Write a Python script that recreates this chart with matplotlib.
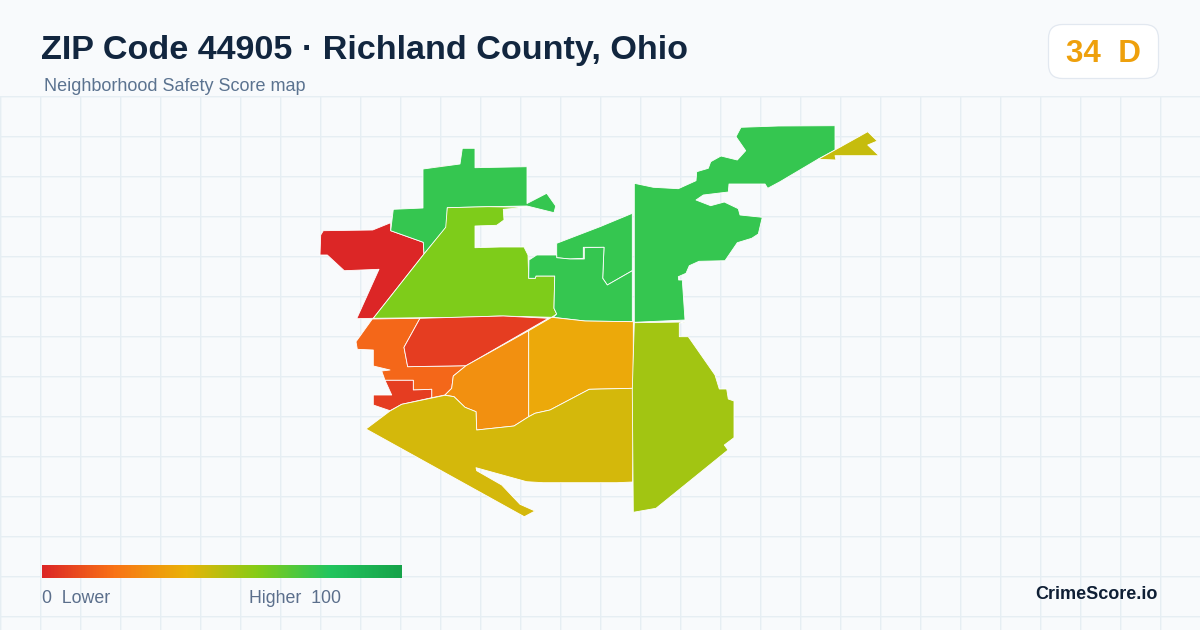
#!/usr/bin/env python3

import matplotlib

matplotlib.use("Agg")

import matplotlib.pyplot as plt
from matplotlib.colors import LinearSegmentedColormap, Normalize
from matplotlib.patches import FancyBboxPatch, Polygon
import numpy as np

plt.rcParams["font.family"] = ["Liberation Sans", "DejaVu Sans"]

TITLE = "ZIP Code 44905 · Richland County, Ohio"
SUBTITLE = "Neighborhood Safety Score map"
BRAND = "CrimeScore.io"
ZIP_SCORE = 34
ZIP_GRADE = "D"

# legend ramp
RAMP_STOPS = [0.0, 0.2, 0.4, 0.6, 0.8, 1.0]
RAMP_COLORS = ["#dc2626", "#f97316", "#eab308", "#84cc16", "#22c55e", "#16a34a"]

# tract outlines in image pixels
RED_SLIVER = [(431, 167.5), (446, 165.5), (446, 167), (431, 168.5)]
RED_WEST = [
    (323.3, 230.7), (372.7, 230), (390.7, 222.7), (390.7, 230.7), (423.3, 242.3),
    (424, 254), (373.3, 318.3), (356.7, 318.7), (379, 269.3), (344.3, 270.7),
    (327.3, 255), (320, 255), (320.7, 235),
]
GREEN_NORTH = [
    (462.3, 148.3), (475, 148.3), (475, 167.7), (527, 166.7), (527, 203.5),
    (546.7, 193.3), (555.7, 206), (554, 212.7), (527, 206), (488.3, 206.7),
    (447.3, 207.7), (446.7, 226.7), (424, 254), (423.3, 242.3), (390.7, 230.7),
    (393.3, 209.3), (423, 208), (423, 169), (460, 164),
]
LIME_CENTER = [
    (447.3, 207.7), (488, 206.7), (527, 207.3), (503.3, 209.3), (504, 220),
    (496.7, 225.3), (475, 226), (475, 247.7), (500, 247), (524, 247), (528, 255),
    (528.7, 278.3), (535.3, 278.3), (536, 276), (554.7, 276), (554, 308.3),
    (556.7, 314), (551.7, 317.3), (500, 316), (460, 317.3), (373.3, 318.3),
    (424, 254), (445.7, 227.3),
]
GREEN_INNER = [
    (556.7, 243.3), (600, 226.7), (632.3, 213.3), (632.3, 270.7), (607.3, 285),
    (602.7, 278.3), (604, 247.3), (583.3, 247.3), (583.3, 258.3), (570, 259),
    (556.7, 257.7),
]
GREEN_MIDDLE = [
    (529, 260), (536.7, 255), (556.7, 255), (556.7, 257.7), (570, 259), (584.3, 259),
    (584.3, 247.7), (604, 247.3), (602.7, 278.3), (607.3, 285), (632.3, 270.7),
    (632.3, 320), (633.3, 321.7), (585, 321), (553.3, 317.3), (556.7, 314),
    (554, 308.3), (554.7, 276), (536, 276), (535.3, 278.3), (528.7, 278.3),
]
GREEN_EAST = [
    (634.3, 183.3), (653.3, 187.3), (678.3, 188.7), (696, 180.7), (696.7, 171.7),
    (708.3, 168.3), (710.7, 161.7), (721, 156), (737.3, 160), (745.7, 150.7),
    (736, 136.7), (741, 127.3), (778.3, 126), (835, 125.7), (835, 150), (818.3, 159),
    (780, 181.7), (767.7, 188.3), (765, 184), (729, 184), (728.3, 192), (703.3, 195),
    (696, 200), (710.7, 205.7), (724.3, 202), (738.3, 208.7), (740, 215),
    (762.3, 217.3), (758.3, 234), (751.7, 238.3), (737.3, 242.7), (725, 260.7),
    (699, 261.3), (689.3, 265.7), (686, 273.3), (678.3, 276.7), (678.7, 280),
    (682.3, 280), (685, 320), (634.3, 322.3),
]
YELLOW_SPIKE = [
    (818.3, 159.3), (867.7, 131.7), (877.3, 141), (867.7, 145), (879, 155.7),
    (835, 155.7), (836, 160),
]
ORANGE_WEST = [
    (372.3, 319), (420, 318.3), (404, 347.3), (407.7, 366.7), (466, 365.7),
    (453.3, 376), (451.7, 388.3), (445, 395), (431.7, 397.7), (431.7, 389.3),
    (413.3, 390), (413.3, 380.3), (385, 380.3), (381.7, 371), (390, 370),
    (373.3, 366), (373.3, 350), (357.3, 349.3), (356, 341.7),
]
REDORANGE_NORTH = [
    (420, 318.3), (503.3, 316), (548.3, 318.3), (466, 365.7), (407.7, 366.7),
    (404, 347.3),
]
REDORANGE_SOUTH = [
    (385, 380.3), (413.3, 380.3), (413.3, 390), (431.7, 389.3), (431.7, 397.7),
    (401.7, 404.3), (390, 410.7), (373.3, 405), (373.3, 395), (391.7, 395),
]
ORANGE_CENTER = [
    (528.7, 330.7), (528.7, 416.7), (514, 426), (476.7, 430), (476, 411.7),
    (465, 407.3), (454, 396.7), (445, 395), (451.7, 388.3), (453.3, 376),
    (466, 365.7),
]
AMBER_CENTER = [
    (528.7, 330.7), (551.7, 317.3), (585, 321), (633.3, 321.7), (633.3, 388.3),
    (589.3, 389.3), (550, 410), (535, 413.3), (528.7, 416.7),
]
OLIVE_SOUTH = [
    (445, 395.3), (454, 396.7), (465, 407.3), (476, 411.7), (476.7, 430), (514, 426),
    (528.7, 416.7), (535, 413.3), (550, 410), (589.3, 389.3), (633.3, 388.3),
    (632.7, 482), (616.7, 482.7), (543.3, 482.7), (526.7, 481.7), (476, 467.7),
    (476.7, 470.7), (501.7, 485), (520, 504.3), (535, 511), (524.3, 516.7),
    (366, 429), (390, 411), (401.7, 404.3),
]
YELLOWGREEN_EAST = [
    (634.3, 322.7), (685, 322), (679.3, 323.3), (679.3, 336.7), (688.3, 336.7),
    (715, 375), (719.3, 389), (726.7, 389), (728.3, 399), (734, 401), (734, 437.7),
    (724.3, 445), (728, 450), (656, 508.3), (633.3, 512.3), (632.3, 390),
]

TRACTS = [
    RED_SLIVER, RED_WEST, GREEN_NORTH, LIME_CENTER, GREEN_INNER, GREEN_MIDDLE,
    GREEN_EAST, YELLOW_SPIKE, ORANGE_WEST, REDORANGE_NORTH, REDORANGE_SOUTH,
    ORANGE_CENTER, AMBER_CENTER, OLIVE_SOUTH, YELLOWGREEN_EAST,
]
# estimated from the fill colours against the legend ramp
TRACT_SCORES = [0, 0, 76, 61, 76, 76, 76, 47, 17, 6, 6, 29, 37, 44.5, 54]


def main() -> None:
    fig = plt.figure(figsize=(12, 6.3), dpi=100, facecolor="#f8fafc")
    ax = fig.add_axes([0, 0, 1, 1])
    ax.set_facecolor("#f8fafc")
    ax.axis("off")

    ramp = LinearSegmentedColormap.from_list(
        "safety", list(zip(RAMP_STOPS, RAMP_COLORS))
    )
    norm = Normalize(0, 100)

    grid_color = "#e6eef3"
    ax.vlines(
        np.arange(0.7, 1201, 40), 97, 630, color=grid_color, lw=1.0, snap=False, zorder=1
    )
    ax.hlines(
        np.arange(96.7, 630, 40), 0, 1200, color=grid_color, lw=1.0, snap=False, zorder=1
    )

    for outline, score in zip(TRACTS, TRACT_SCORES):
        ax.add_patch(
            Polygon(
                outline,
                closed=True,
                facecolor=ramp(norm(score)),
                edgecolor="white",
                lw=0.6,
                joinstyle="round",
                zorder=2,
            )
        )

    # legend bar
    ax.imshow(
        np.linspace(0, 1, 360).reshape(1, -1),
        cmap=ramp,
        extent=(42, 402, 578, 565),
        aspect="auto",
        zorder=3,
    )
    ax.text(42, 603, "0  Lower", fontsize=12.8, color="#5b6f8c", zorder=4)
    ax.text(249, 603, "Higher  100", fontsize=12.8, color="#5b6f8c", zorder=4)

    # header
    ax.text(41, 59, TITLE, fontsize=24.55, fontweight="bold", color="#12263f", zorder=4)
    ax.text(44, 91, SUBTITLE, fontsize=12.95, color="#5b7390", zorder=4)

    # score badge
    ax.add_patch(
        FancyBboxPatch(
            (1048.5, 24.5),
            110,
            54,
            boxstyle="round,pad=0,rounding_size=14",
            facecolor="white",
            edgecolor="#e2e8f0",
            lw=0.9,
            zorder=3,
        )
    )
    ax.text(
        1103,
        62,
        f"{ZIP_SCORE}  {ZIP_GRADE}",
        fontsize=22.6,
        fontweight="bold",
        color=ramp(norm(ZIP_SCORE)),
        ha="center",
        zorder=4,
    )

    ax.text(
        1158,
        599,
        BRAND,
        fontsize=13,
        fontweight="bold",
        color="#0f1f35",
        ha="right",
        zorder=4,
    )

    ax.set_xlim(0, 1200)
    ax.set_ylim(630, 0)
    fig.savefig("out.png", dpi=100, facecolor=fig.get_facecolor())


if __name__ == "__main__":
    main()
